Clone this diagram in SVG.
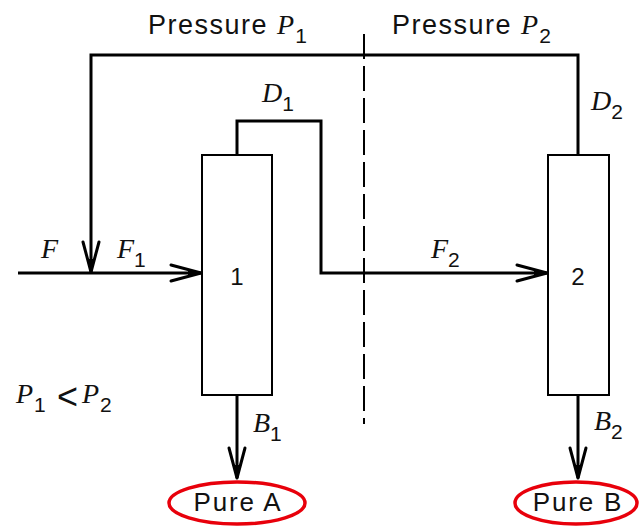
<svg xmlns="http://www.w3.org/2000/svg" width="639" height="526" viewBox="0 0 639 526">
  <style>
    .flow { fill: none; stroke: #000; stroke-width: 3; }
    .col { fill: #fff; stroke: #000; stroke-width: 2; }
    .div { fill: none; stroke: #000; stroke-width: 2; stroke-dasharray: 25 7; }
    .prod { fill: none; stroke: #e8000b; stroke-width: 3.5; }
    .sans { font-family: "Liberation Sans", Arial, sans-serif; fill: #111; }
    .ital { font-family: "Liberation Serif", "Times New Roman", serif; font-style: italic; fill: #111; }
    .head { font-size: 27px; letter-spacing: 1.5px; }
    .var { font-size: 28px; }
    .sub { font-family: "Liberation Sans", Arial, sans-serif; font-style: normal; font-size: 21px; }
    .num { font-size: 24px; text-anchor: middle; }
    .pure { font-size: 26px; letter-spacing: 1.8px; text-anchor: middle; }
    .lt { font-family: "Liberation Sans", Arial, sans-serif; font-style: normal; font-size: 36px; }
  </style>
  <defs>
    <marker id="arr" markerUnits="userSpaceOnUse" viewBox="-34 -12 40 24" markerWidth="40" markerHeight="24" refX="0" refY="0" orient="auto" overflow="visible">
      <path d="M-30,-8 L0,0 L-30,8" fill="none" stroke="#000" stroke-width="3" stroke-linejoin="round" stroke-linecap="round"/>
      <path d="M-13,-3.2 L0,0 L-13,3.2 Z" fill="#000"/>
    </marker>
  </defs>

  <rect width="639" height="526" fill="#fff"/>

  <g id="divider">
    <line class="div" x1="364" y1="34" x2="364" y2="424"/>
  </g>

  <g id="connectors">
    <path id="feed" class="flow" d="M18,273 H201" marker-end="url(#arr)"/>
    <path id="recycle" class="flow" d="M578,155 V55 H91 V272" marker-end="url(#arr)"/>
    <path id="d1-f2" class="flow" d="M237,155 V121 H321 V273 H547" marker-end="url(#arr)"/>
    <path id="b1" class="flow" d="M237,395 V478" marker-end="url(#arr)"/>
    <path id="b2" class="flow" d="M578,395 V478" marker-end="url(#arr)"/>
  </g>

  <g id="column1">
    <rect class="col" x="202" y="155" width="70" height="240"/>
    <text class="sans num" x="237" y="285">1</text>
  </g>

  <g id="column2">
    <rect class="col" x="548" y="155" width="61" height="240"/>
    <text class="sans num" x="578" y="285">2</text>
  </g>

  <g id="pureA">
    <ellipse class="prod" cx="237" cy="503" rx="68" ry="21"/>
    <text class="sans pure" x="238" y="511">Pure A</text>
  </g>

  <g id="pureB">
    <ellipse class="prod" cx="576" cy="503" rx="61" ry="21"/>
    <text class="sans pure" x="578" y="511">Pure B</text>
  </g>

  <g id="labels">
    <text class="sans head" x="148" y="34">Pressure <tspan class="ital var" letter-spacing="0">P</tspan><tspan class="sub" letter-spacing="0" dx="1" dy="9">1</tspan></text>
    <text class="sans head" x="392" y="34">Pressure <tspan class="ital var" letter-spacing="0">P</tspan><tspan class="sub" letter-spacing="0" dx="1" dy="9">2</tspan></text>
    <text class="ital var" x="262" y="102">D<tspan class="sub" dy="9">1</tspan></text>
    <text class="ital var" x="591" y="110">D<tspan class="sub" dy="9">2</tspan></text>
    <text class="ital var" x="41" y="258">F</text>
    <text class="ital var" x="117" y="258">F<tspan class="sub" dy="9">1</tspan></text>
    <text class="ital var" x="431" y="258">F<tspan class="sub" dy="9">2</tspan></text>
    <text class="ital var" x="253" y="432">B<tspan class="sub" dy="9">1</tspan></text>
    <text class="ital var" x="594" y="430">B<tspan class="sub" dy="9">2</tspan></text>
    <text class="ital var" x="16" y="403">P<tspan class="sub" dx="1" dy="9">1</tspan><tspan class="lt" x="57" dy="-3">&lt;</tspan><tspan x="82" dy="-6">P</tspan><tspan class="sub" dx="1" dy="9">2</tspan></text>
  </g>
</svg>
